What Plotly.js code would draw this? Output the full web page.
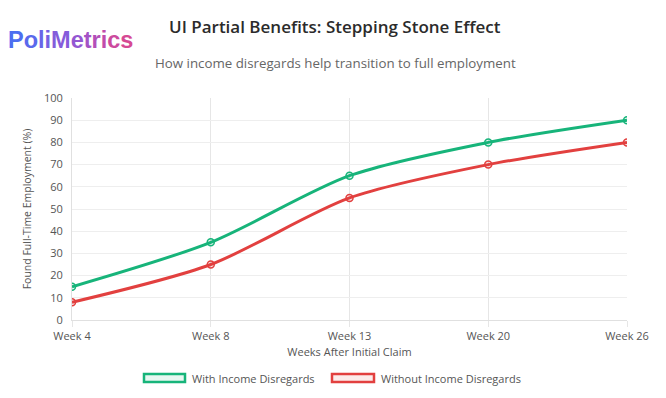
<!DOCTYPE html>
<html><head><meta charset="utf-8">
<script src="https://cdn.plot.ly/plotly-3.0.1.min.js"></script>
<style>html,body{margin:0;padding:0;background:#fff;}#chart{width:666px;height:398px;}</style>
</head><body><div id="chart"></div>
<script>
const weeks = ["Week 4", "Week 8", "Week 13", "Week 20", "Week 26"];
const withDisregards = [15, 35, 65, 80, 90];
const withoutDisregards = [8, 25, 55, 70, 80];
const seriesNames = ["With Income Disregards", "Without Income Disregards"];
const green = "#17b47a", red = "#e2403f";

const logoLetters = "PoliMetrics".split("");
const logoColors = ["#4d6ef0","#5a69ec","#6865e8","#7661e2","#855cdb","#9457d2","#a453c6","#b34fb9","#c14cab","#cc4a9e","#d64993"];
const logoText = logoLetters.map((c,i)=>`<span style="color:${logoColors[i]}">${c}</span>`).join("");

const traces = [
  {x: weeks, y: withDisregards, name: seriesNames[0], type: "scatter", mode: "lines+markers",
   line: {color: green, width: 3, shape: "spline", smoothing: 0.8},
   marker: {size: 7, color: "rgba(23,180,122,0.12)", line: {color: green, width: 1.5}}},
  {x: weeks, y: withoutDisregards, name: seriesNames[1], type: "scatter", mode: "lines+markers",
   line: {color: red, width: 3, shape: "spline", smoothing: 0.8},
   marker: {size: 7, color: "rgba(226,64,63,0.12)", line: {color: red, width: 1.5}}}
];

const layout = {
  width: 666, height: 398,
  margin: {l: 72, r: 39, t: 98, b: 78},
  paper_bgcolor: "#fff", plot_bgcolor: "#fff",
  font: {family: "Open Sans, sans-serif", color: "#666", size: 11},
  showlegend: false,
  xaxis: {type: "category", range: [0, 4], showgrid: true, gridcolor: "#e6e6e6", zeroline: false,
    showline: true, linecolor: "#e0e0e0", ticks: "outside", ticklen: 6, tickcolor: "#e6e6e6",
    tickfont: {size: 11, color: "#555"},
    title: {text: "Weeks After Initial Claim", font: {size: 11, color: "#555"}, standoff: 6}},
  yaxis: {range: [0, 100], dtick: 10, showgrid: true, gridcolor: "#eeeeee", zeroline: false,
    showline: true, linecolor: "#e0e0e0", ticks: "outside", ticklen: 6, tickcolor: "#fff",
    tickfont: {size: 11, color: "#555"},
    title: {text: "Found Full-Time Employment (%)", font: {size: 10.5, color: "#555"}, standoff: 10}},
  annotations: [
    {text: "UI Partial Benefits: Stepping Stone Effect", xref: "paper", yref: "paper",
     x: 0.474, xanchor: "center", y: 1, yshift: 72, yanchor: "middle", showarrow: false,
     font: {size: 17, color: "#2b2b2b", weight: 600}},
    {text: "How income disregards help transition to full employment", xref: "paper", yref: "paper",
     x: 0.474, xanchor: "center", y: 1, yshift: 35, yanchor: "middle", showarrow: false,
     font: {size: 13.3, color: "#666"}},
    {text: "<b>" + logoText + "</b>", xref: "paper", yref: "paper", x: 0, xshift: -66, xanchor: "left",
     y: 1, yshift: 58, yanchor: "middle", showarrow: false,
     font: {size: 23.5, family: "Liberation Sans, Arial, sans-serif"}},
    {text: seriesNames[0], xref: "paper", yref: "paper", x: (190-72)/555, xanchor: "left",
     y: 0, yshift: -58, yanchor: "middle", showarrow: false, font: {size: 11, color: "#555"}},
    {text: seriesNames[1], xref: "paper", yref: "paper", x: (379-72)/555, xanchor: "left",
     y: 0, yshift: -58, yanchor: "middle", showarrow: false, font: {size: 11, color: "#555"}}
  ],
  shapes: [
    {type: "rect", xref: "paper", yref: "paper", x0: (144-72)/555, x1: (185-72)/555, y0: -0.279, y1: -0.243,
     line: {color: green, width: 2.5}, fillcolor: "rgba(23,180,122,0.1)"},
    {type: "rect", xref: "paper", yref: "paper", x0: (332-72)/555, x1: (374-72)/555, y0: -0.279, y1: -0.243,
     line: {color: red, width: 2.5}, fillcolor: "rgba(226,64,63,0.1)"}
  ]
};
Plotly.newPlot("chart", traces, layout, {displayModeBar: false, staticPlot: true});
</script></body></html>
